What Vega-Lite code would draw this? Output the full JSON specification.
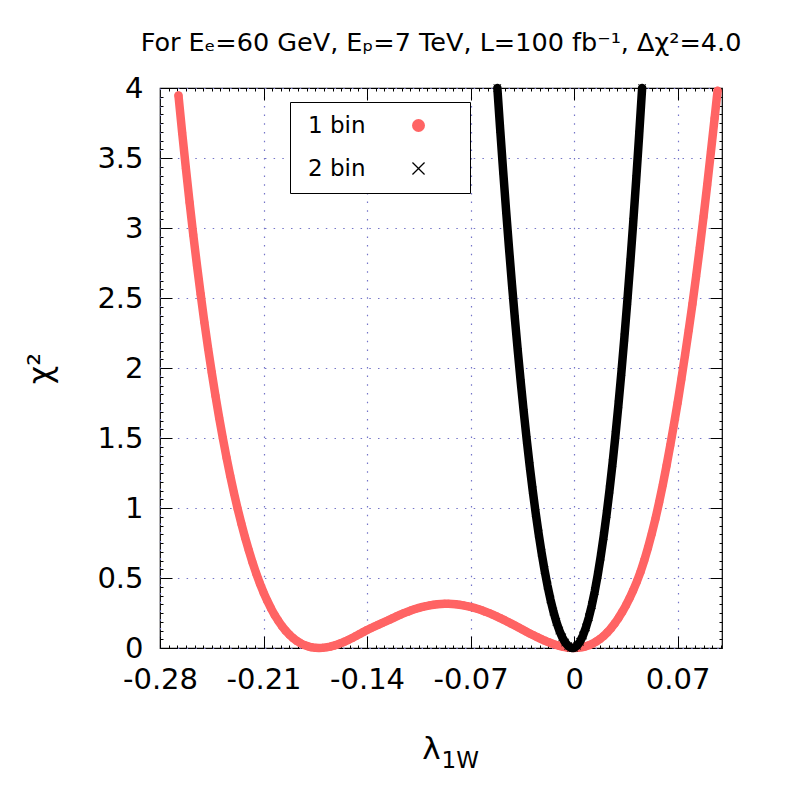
{
  "$schema": "https://vega.github.io/schema/vega-lite/v6.json",
  "width": 562,
  "height": 560,
  "autosize": {"type": "none"},
  "padding": {"left": 160, "top": 88, "right": 78, "bottom": 152},
  "background": "white",
  "config": {
    "view": {"stroke": "black", "strokeWidth": 1.2},
    "axis": {"labelFont": "DejaVu Sans", "titleFont": "DejaVu Sans", "titleFontWeight": "normal", "labelColor": "black", "titleColor": "black", "tickColor": "black", "tickWidth": 1, "domain": false, "grid": false, "labelFlush": false, "labelOverlap": false, "labelBound": false}
  },
  "title": {"text": "For Eₑ=60 GeV, Eₚ=7 TeV, L=100 fb⁻¹, Δχ²=4.0", "fontSize": 25.5, "font": "DejaVu Sans", "fontWeight": "normal", "color": "black", "anchor": "middle", "frame": "group", "baseline": "alphabetic", "offset": -2},
  "datasets": {
    "red": [
      {"lambda": -0.2675, "chi2": 3.946, "s": "1 bin"},
      {"lambda": -0.2650, "chi2": 3.680, "s": "1 bin"},
      {"lambda": -0.2625, "chi2": 3.427, "s": "1 bin"},
      {"lambda": -0.2600, "chi2": 3.183, "s": "1 bin"},
      {"lambda": -0.2575, "chi2": 2.951, "s": "1 bin"},
      {"lambda": -0.2550, "chi2": 2.733, "s": "1 bin"},
      {"lambda": -0.2525, "chi2": 2.526, "s": "1 bin"},
      {"lambda": -0.2500, "chi2": 2.327, "s": "1 bin"},
      {"lambda": -0.2475, "chi2": 2.141, "s": "1 bin"},
      {"lambda": -0.2450, "chi2": 1.967, "s": "1 bin"},
      {"lambda": -0.2425, "chi2": 1.801, "s": "1 bin"},
      {"lambda": -0.2400, "chi2": 1.645, "s": "1 bin"},
      {"lambda": -0.2375, "chi2": 1.498, "s": "1 bin"},
      {"lambda": -0.2350, "chi2": 1.359, "s": "1 bin"},
      {"lambda": -0.2325, "chi2": 1.230, "s": "1 bin"},
      {"lambda": -0.2300, "chi2": 1.108, "s": "1 bin"},
      {"lambda": -0.2275, "chi2": 0.994, "s": "1 bin"},
      {"lambda": -0.2250, "chi2": 0.889, "s": "1 bin"},
      {"lambda": -0.2225, "chi2": 0.790, "s": "1 bin"},
      {"lambda": -0.2200, "chi2": 0.699, "s": "1 bin"},
      {"lambda": -0.2175, "chi2": 0.613, "s": "1 bin"},
      {"lambda": -0.2150, "chi2": 0.534, "s": "1 bin"},
      {"lambda": -0.2125, "chi2": 0.462, "s": "1 bin"},
      {"lambda": -0.2100, "chi2": 0.397, "s": "1 bin"},
      {"lambda": -0.2075, "chi2": 0.338, "s": "1 bin"},
      {"lambda": -0.2050, "chi2": 0.284, "s": "1 bin"},
      {"lambda": -0.2025, "chi2": 0.236, "s": "1 bin"},
      {"lambda": -0.2000, "chi2": 0.194, "s": "1 bin"},
      {"lambda": -0.1975, "chi2": 0.156, "s": "1 bin"},
      {"lambda": -0.1950, "chi2": 0.123, "s": "1 bin"},
      {"lambda": -0.1925, "chi2": 0.095, "s": "1 bin"},
      {"lambda": -0.1900, "chi2": 0.071, "s": "1 bin"},
      {"lambda": -0.1875, "chi2": 0.0506, "s": "1 bin"},
      {"lambda": -0.1850, "chi2": 0.0342, "s": "1 bin"},
      {"lambda": -0.1825, "chi2": 0.0213, "s": "1 bin"},
      {"lambda": -0.1800, "chi2": 0.0117, "s": "1 bin"},
      {"lambda": -0.1775, "chi2": 0.0050, "s": "1 bin"},
      {"lambda": -0.1750, "chi2": 0.0012, "s": "1 bin"},
      {"lambda": -0.1725, "chi2": 0.0, "s": "1 bin"},
      {"lambda": -0.1700, "chi2": 0.0012, "s": "1 bin"},
      {"lambda": -0.1675, "chi2": 0.0045, "s": "1 bin"},
      {"lambda": -0.1650, "chi2": 0.0098, "s": "1 bin"},
      {"lambda": -0.1625, "chi2": 0.0168, "s": "1 bin"},
      {"lambda": -0.1600, "chi2": 0.0254, "s": "1 bin"},
      {"lambda": -0.1575, "chi2": 0.0353, "s": "1 bin"},
      {"lambda": -0.1550, "chi2": 0.0464, "s": "1 bin"},
      {"lambda": -0.1525, "chi2": 0.0585, "s": "1 bin"},
      {"lambda": -0.1500, "chi2": 0.0716, "s": "1 bin"},
      {"lambda": -0.1475, "chi2": 0.0853, "s": "1 bin"},
      {"lambda": -0.1450, "chi2": 0.0995, "s": "1 bin"},
      {"lambda": -0.1425, "chi2": 0.1142, "s": "1 bin"},
      {"lambda": -0.1400, "chi2": 0.1284, "s": "1 bin"},
      {"lambda": -0.1375, "chi2": 0.1413, "s": "1 bin"},
      {"lambda": -0.1350, "chi2": 0.1538, "s": "1 bin"},
      {"lambda": -0.1325, "chi2": 0.1657, "s": "1 bin"},
      {"lambda": -0.1300, "chi2": 0.1771, "s": "1 bin"},
      {"lambda": -0.1275, "chi2": 0.1893, "s": "1 bin"},
      {"lambda": -0.1250, "chi2": 0.2009, "s": "1 bin"},
      {"lambda": -0.1225, "chi2": 0.2138, "s": "1 bin"},
      {"lambda": -0.1200, "chi2": 0.2262, "s": "1 bin"},
      {"lambda": -0.1175, "chi2": 0.2380, "s": "1 bin"},
      {"lambda": -0.1150, "chi2": 0.2492, "s": "1 bin"},
      {"lambda": -0.1125, "chi2": 0.2597, "s": "1 bin"},
      {"lambda": -0.1100, "chi2": 0.2694, "s": "1 bin"},
      {"lambda": -0.1075, "chi2": 0.2783, "s": "1 bin"},
      {"lambda": -0.1050, "chi2": 0.2863, "s": "1 bin"},
      {"lambda": -0.1025, "chi2": 0.2934, "s": "1 bin"},
      {"lambda": -0.1000, "chi2": 0.2996, "s": "1 bin"},
      {"lambda": -0.0975, "chi2": 0.3048, "s": "1 bin"},
      {"lambda": -0.0950, "chi2": 0.3090, "s": "1 bin"},
      {"lambda": -0.0925, "chi2": 0.3121, "s": "1 bin"},
      {"lambda": -0.0900, "chi2": 0.3142, "s": "1 bin"},
      {"lambda": -0.0875, "chi2": 0.3153, "s": "1 bin"},
      {"lambda": -0.0850, "chi2": 0.3153, "s": "1 bin"},
      {"lambda": -0.0825, "chi2": 0.3142, "s": "1 bin"},
      {"lambda": -0.0800, "chi2": 0.3121, "s": "1 bin"},
      {"lambda": -0.0775, "chi2": 0.3090, "s": "1 bin"},
      {"lambda": -0.0750, "chi2": 0.3048, "s": "1 bin"},
      {"lambda": -0.0725, "chi2": 0.2996, "s": "1 bin"},
      {"lambda": -0.0700, "chi2": 0.2934, "s": "1 bin"},
      {"lambda": -0.0675, "chi2": 0.2863, "s": "1 bin"},
      {"lambda": -0.0650, "chi2": 0.2783, "s": "1 bin"},
      {"lambda": -0.0625, "chi2": 0.2694, "s": "1 bin"},
      {"lambda": -0.0600, "chi2": 0.2597, "s": "1 bin"},
      {"lambda": -0.0575, "chi2": 0.2492, "s": "1 bin"},
      {"lambda": -0.0550, "chi2": 0.2380, "s": "1 bin"},
      {"lambda": -0.0525, "chi2": 0.2262, "s": "1 bin"},
      {"lambda": -0.0500, "chi2": 0.2138, "s": "1 bin"},
      {"lambda": -0.0475, "chi2": 0.2009, "s": "1 bin"},
      {"lambda": -0.0450, "chi2": 0.1876, "s": "1 bin"},
      {"lambda": -0.0425, "chi2": 0.1740, "s": "1 bin"},
      {"lambda": -0.0400, "chi2": 0.1601, "s": "1 bin"},
      {"lambda": -0.0375, "chi2": 0.1461, "s": "1 bin"},
      {"lambda": -0.0350, "chi2": 0.1320, "s": "1 bin"},
      {"lambda": -0.0325, "chi2": 0.1180, "s": "1 bin"},
      {"lambda": -0.0300, "chi2": 0.1042, "s": "1 bin"},
      {"lambda": -0.0275, "chi2": 0.0908, "s": "1 bin"},
      {"lambda": -0.0250, "chi2": 0.0777, "s": "1 bin"},
      {"lambda": -0.0225, "chi2": 0.0653, "s": "1 bin"},
      {"lambda": -0.0200, "chi2": 0.0534, "s": "1 bin"},
      {"lambda": -0.0175, "chi2": 0.0423, "s": "1 bin"},
      {"lambda": -0.0150, "chi2": 0.0321, "s": "1 bin"},
      {"lambda": -0.0125, "chi2": 0.0231, "s": "1 bin"},
      {"lambda": -0.0100, "chi2": 0.0152, "s": "1 bin"},
      {"lambda": -0.0075, "chi2": 0.0089, "s": "1 bin"},
      {"lambda": -0.0050, "chi2": 0.0041, "s": "1 bin"},
      {"lambda": -0.0025, "chi2": 0.0010, "s": "1 bin"},
      {"lambda": 0.0, "chi2": 0.0, "s": "1 bin"},
      {"lambda": 0.0025, "chi2": 0.0011, "s": "1 bin"},
      {"lambda": 0.0050, "chi2": 0.0046, "s": "1 bin"},
      {"lambda": 0.0075, "chi2": 0.0106, "s": "1 bin"},
      {"lambda": 0.0100, "chi2": 0.0193, "s": "1 bin"},
      {"lambda": 0.0125, "chi2": 0.0310, "s": "1 bin"},
      {"lambda": 0.0150, "chi2": 0.0459, "s": "1 bin"},
      {"lambda": 0.0175, "chi2": 0.0641, "s": "1 bin"},
      {"lambda": 0.0200, "chi2": 0.0860, "s": "1 bin"},
      {"lambda": 0.0225, "chi2": 0.1117, "s": "1 bin"},
      {"lambda": 0.0250, "chi2": 0.1414, "s": "1 bin"},
      {"lambda": 0.0275, "chi2": 0.1755, "s": "1 bin"},
      {"lambda": 0.0300, "chi2": 0.2141, "s": "1 bin"},
      {"lambda": 0.0325, "chi2": 0.2566, "s": "1 bin"},
      {"lambda": 0.0350, "chi2": 0.3038, "s": "1 bin"},
      {"lambda": 0.0375, "chi2": 0.3560, "s": "1 bin"},
      {"lambda": 0.0400, "chi2": 0.4132, "s": "1 bin"},
      {"lambda": 0.0425, "chi2": 0.4759, "s": "1 bin"},
      {"lambda": 0.0450, "chi2": 0.5461, "s": "1 bin"},
      {"lambda": 0.0475, "chi2": 0.6279, "s": "1 bin"},
      {"lambda": 0.0500, "chi2": 0.7179, "s": "1 bin"},
      {"lambda": 0.0525, "chi2": 0.8163, "s": "1 bin"},
      {"lambda": 0.0550, "chi2": 0.9237, "s": "1 bin"},
      {"lambda": 0.0575, "chi2": 1.0407, "s": "1 bin"},
      {"lambda": 0.0600, "chi2": 1.1676, "s": "1 bin"},
      {"lambda": 0.0625, "chi2": 1.3029, "s": "1 bin"},
      {"lambda": 0.0650, "chi2": 1.4466, "s": "1 bin"},
      {"lambda": 0.0675, "chi2": 1.5956, "s": "1 bin"},
      {"lambda": 0.0700, "chi2": 1.7520, "s": "1 bin"},
      {"lambda": 0.0725, "chi2": 1.9183, "s": "1 bin"},
      {"lambda": 0.0750, "chi2": 2.0915, "s": "1 bin"},
      {"lambda": 0.0775, "chi2": 2.2711, "s": "1 bin"},
      {"lambda": 0.0800, "chi2": 2.4564, "s": "1 bin"},
      {"lambda": 0.0825, "chi2": 2.6555, "s": "1 bin"},
      {"lambda": 0.0850, "chi2": 2.8624, "s": "1 bin"},
      {"lambda": 0.0875, "chi2": 3.0795, "s": "1 bin"},
      {"lambda": 0.0900, "chi2": 3.3070, "s": "1 bin"},
      {"lambda": 0.0925, "chi2": 3.5451, "s": "1 bin"},
      {"lambda": 0.0950, "chi2": 3.7843, "s": "1 bin"},
      {"lambda": 0.0970, "chi2": 3.98, "s": "1 bin"}
    ],
    "black": [
      {"lambda": -0.0519, "chi2": 4.0, "s": "2 bin"},
      {"lambda": -0.050, "chi2": 3.707, "s": "2 bin"},
      {"lambda": -0.048, "chi2": 3.411, "s": "2 bin"},
      {"lambda": -0.046, "chi2": 3.127, "s": "2 bin"},
      {"lambda": -0.044, "chi2": 2.855, "s": "2 bin"},
      {"lambda": -0.042, "chi2": 2.595, "s": "2 bin"},
      {"lambda": -0.040, "chi2": 2.348, "s": "2 bin"},
      {"lambda": -0.038, "chi2": 2.114, "s": "2 bin"},
      {"lambda": -0.036, "chi2": 1.891, "s": "2 bin"},
      {"lambda": -0.034, "chi2": 1.681, "s": "2 bin"},
      {"lambda": -0.032, "chi2": 1.484, "s": "2 bin"},
      {"lambda": -0.030, "chi2": 1.298, "s": "2 bin"},
      {"lambda": -0.028, "chi2": 1.126, "s": "2 bin"},
      {"lambda": -0.026, "chi2": 0.965, "s": "2 bin"},
      {"lambda": -0.024, "chi2": 0.817, "s": "2 bin"},
      {"lambda": -0.022, "chi2": 0.681, "s": "2 bin"},
      {"lambda": -0.020, "chi2": 0.557, "s": "2 bin"},
      {"lambda": -0.018, "chi2": 0.446, "s": "2 bin"},
      {"lambda": -0.016, "chi2": 0.347, "s": "2 bin"},
      {"lambda": -0.014, "chi2": 0.261, "s": "2 bin"},
      {"lambda": -0.012, "chi2": 0.187, "s": "2 bin"},
      {"lambda": -0.010, "chi2": 0.125, "s": "2 bin"},
      {"lambda": -0.008, "chi2": 0.076, "s": "2 bin"},
      {"lambda": -0.006, "chi2": 0.039, "s": "2 bin"},
      {"lambda": -0.004, "chi2": 0.014, "s": "2 bin"},
      {"lambda": -0.002, "chi2": 0.002, "s": "2 bin"},
      {"lambda": -0.001, "chi2": 0.0, "s": "2 bin"},
      {"lambda": 0.000, "chi2": 0.002, "s": "2 bin"},
      {"lambda": 0.002, "chi2": 0.016, "s": "2 bin"},
      {"lambda": 0.004, "chi2": 0.045, "s": "2 bin"},
      {"lambda": 0.006, "chi2": 0.089, "s": "2 bin"},
      {"lambda": 0.008, "chi2": 0.147, "s": "2 bin"},
      {"lambda": 0.010, "chi2": 0.219, "s": "2 bin"},
      {"lambda": 0.012, "chi2": 0.306, "s": "2 bin"},
      {"lambda": 0.014, "chi2": 0.407, "s": "2 bin"},
      {"lambda": 0.016, "chi2": 0.523, "s": "2 bin"},
      {"lambda": 0.018, "chi2": 0.654, "s": "2 bin"},
      {"lambda": 0.020, "chi2": 0.799, "s": "2 bin"},
      {"lambda": 0.022, "chi2": 0.958, "s": "2 bin"},
      {"lambda": 0.024, "chi2": 1.132, "s": "2 bin"},
      {"lambda": 0.026, "chi2": 1.320, "s": "2 bin"},
      {"lambda": 0.028, "chi2": 1.523, "s": "2 bin"},
      {"lambda": 0.030, "chi2": 1.740, "s": "2 bin"},
      {"lambda": 0.032, "chi2": 1.972, "s": "2 bin"},
      {"lambda": 0.034, "chi2": 2.218, "s": "2 bin"},
      {"lambda": 0.036, "chi2": 2.479, "s": "2 bin"},
      {"lambda": 0.038, "chi2": 2.754, "s": "2 bin"},
      {"lambda": 0.040, "chi2": 3.044, "s": "2 bin"},
      {"lambda": 0.042, "chi2": 3.348, "s": "2 bin"},
      {"lambda": 0.044, "chi2": 3.667, "s": "2 bin"},
      {"lambda": 0.046, "chi2": 4.0, "s": "2 bin"}
    ]
  },
  "layer": [
    {
      "data": {"name": "red"},
      "mark": {"type": "line", "color": "#ff6464", "strokeWidth": 8.5, "strokeCap": "round", "strokeJoin": "round"},
      "encoding": {
        "x": {"field": "lambda", "type": "quantitative", "scale": {"domain": [-0.28, 0.1], "nice": false, "zero": false},
          "axis": {"orient": "bottom", "values": [-0.28, -0.21, -0.14, -0.07, 0, 0.07], "labelExpr": "'' + datum.value", "labelFontSize": 29, "tickSize": -12, "labelPadding": 29, "grid": true, "gridColor": "#7474c8", "gridDash": [1.5, 7.2], "gridWidth": 1.2, "title": "λ", "titleFontSize": 31, "titleX": 271, "titleY": 110, "titleAlign": "center", "titleBaseline": "alphabetic", "titleAngle": 0}},
        "y": {"field": "chi2", "type": "quantitative", "scale": {"domain": [0, 4], "nice": false, "zero": false},
          "axis": {"orient": "left", "values": [0, 0.5, 1, 1.5, 2, 2.5, 3, 3.5, 4], "labelExpr": "'' + datum.value", "labelFontSize": 29, "tickSize": -12, "labelPadding": 29, "grid": true, "gridColor": "#7474c8", "gridDash": [1.5, 7.2], "gridWidth": 1.2, "title": "χ²", "titleFontSize": 32, "titleAngle": -90, "titleX": -110, "titleY": 280, "titleAlign": "center", "titleBaseline": "alphabetic"}}
      }
    },
    {
      "data": {"name": "red"},
      "mark": {"type": "point", "filled": true, "opacity": 1, "size": 64},
      "encoding": {
        "x": {"field": "lambda", "type": "quantitative",
          "axis": {"orient": "bottom", "values": [-0.274167, -0.268333, -0.2625, -0.256667, -0.250833, -0.245, -0.239167, -0.233333, -0.2275, -0.221667, -0.215833, -0.204167, -0.198333, -0.1925, -0.186667, -0.180833, -0.175, -0.169167, -0.163333, -0.1575, -0.151667, -0.145833, -0.134167, -0.128333, -0.1225, -0.116667, -0.110833, -0.105, -0.099167, -0.093333, -0.0875, -0.081667, -0.075833, -0.064167, -0.058333, -0.0525, -0.046667, -0.040833, -0.035, -0.029167, -0.023333, -0.0175, -0.011667, -0.005833, 0.005833, 0.011667, 0.0175, 0.023333, 0.029167, 0.035, 0.040833, 0.046667, 0.0525, 0.058333, 0.064167, 0.075833, 0.081667, 0.0875, 0.093333, 0.099167], "labels": false, "tickSize": -3, "grid": false, "title": "1W", "titleFontSize": 23, "titleX": 281, "titleY": 119, "titleAlign": "left", "titleBaseline": "alphabetic", "titleAngle": 0}},
        "y": {"field": "chi2", "type": "quantitative",
          "axis": {"orient": "left", "values": [0.0625, 0.125, 0.1875, 0.25, 0.3125, 0.375, 0.4375, 0.5625, 0.625, 0.6875, 0.75, 0.8125, 0.875, 0.9375, 1.0625, 1.125, 1.1875, 1.25, 1.3125, 1.375, 1.4375, 1.5625, 1.625, 1.6875, 1.75, 1.8125, 1.875, 1.9375, 2.0625, 2.125, 2.1875, 2.25, 2.3125, 2.375, 2.4375, 2.5625, 2.625, 2.6875, 2.75, 2.8125, 2.875, 2.9375, 3.0625, 3.125, 3.1875, 3.25, 3.3125, 3.375, 3.4375, 3.5625, 3.625, 3.6875, 3.75, 3.8125, 3.875, 3.9375], "labels": false, "tickSize": -3, "grid": false, "title": null}},
        "color": {"field": "s", "type": "nominal", "scale": {"domain": ["1 bin", "2 bin"], "range": ["#ff6464", "#000000"]},
          "legend": {"orient": "none", "legendX": 130, "legendY": 14, "title": " ", "titleOrient": "right", "titlePadding": 33, "titleFontSize": 23, "strokeColor": "black", "fillColor": "white", "padding": 12, "labelFontSize": 23, "labelFont": "DejaVu Sans", "labelColor": "black", "symbolSize": 169, "symbolOffset": 105, "labelOffset": -122, "rowPadding": 19}},
        "shape": {"field": "s", "type": "nominal", "scale": {"domain": ["1 bin", "2 bin"], "range": ["circle", "M-1,-0.86L-0.86,-1L0,-0.14L0.86,-1L1,-0.86L0.14,0L1,0.86L0.86,1L0,0.14L-0.86,1L-1,0.86L-0.14,0Z"]},
          "legend": {"orient": "none", "legendX": 130, "legendY": 14, "title": " ", "titleOrient": "right", "titlePadding": 33, "titleFontSize": 23, "strokeColor": "black", "fillColor": "white", "padding": 12, "labelFontSize": 23, "labelFont": "DejaVu Sans", "labelColor": "black", "symbolSize": 169, "symbolOffset": 105, "labelOffset": -122, "rowPadding": 19}}
      }
    },
    {
      "data": {"name": "black"},
      "mark": {"type": "line", "color": "#000000", "strokeWidth": 8.5, "strokeCap": "round", "strokeJoin": "round"},
      "encoding": {
        "x": {"field": "lambda", "type": "quantitative",
          "axis": {"orient": "top", "values": [-0.21, -0.14, -0.07, 0, 0.07], "labels": false, "tickSize": -12, "grid": false, "title": null}},
        "y": {"field": "chi2", "type": "quantitative",
          "axis": {"orient": "right", "values": [0.5, 1, 1.5, 2, 2.5, 3, 3.5], "labels": false, "tickSize": -12, "grid": false, "title": null}}
      }
    },
    {
      "data": {"name": "black"},
      "mark": {"type": "point", "filled": true, "opacity": 1, "size": 64},
      "encoding": {
        "x": {"field": "lambda", "type": "quantitative",
          "axis": {"orient": "top", "values": [-0.274167, -0.268333, -0.2625, -0.256667, -0.250833, -0.245, -0.239167, -0.233333, -0.2275, -0.221667, -0.215833, -0.204167, -0.198333, -0.1925, -0.186667, -0.180833, -0.175, -0.169167, -0.163333, -0.1575, -0.151667, -0.145833, -0.134167, -0.128333, -0.1225, -0.116667, -0.110833, -0.105, -0.099167, -0.093333, -0.0875, -0.081667, -0.075833, -0.064167, -0.058333, -0.0525, -0.046667, -0.040833, -0.035, -0.029167, -0.023333, -0.0175, -0.011667, -0.005833, 0.005833, 0.011667, 0.0175, 0.023333, 0.029167, 0.035, 0.040833, 0.046667, 0.0525, 0.058333, 0.064167, 0.075833, 0.081667, 0.0875, 0.093333, 0.099167], "labels": false, "tickSize": -3, "grid": false, "title": null}},
        "y": {"field": "chi2", "type": "quantitative",
          "axis": {"orient": "right", "values": [0.0625, 0.125, 0.1875, 0.25, 0.3125, 0.375, 0.4375, 0.5625, 0.625, 0.6875, 0.75, 0.8125, 0.875, 0.9375, 1.0625, 1.125, 1.1875, 1.25, 1.3125, 1.375, 1.4375, 1.5625, 1.625, 1.6875, 1.75, 1.8125, 1.875, 1.9375, 2.0625, 2.125, 2.1875, 2.25, 2.3125, 2.375, 2.4375, 2.5625, 2.625, 2.6875, 2.75, 2.8125, 2.875, 2.9375, 3.0625, 3.125, 3.1875, 3.25, 3.3125, 3.375, 3.4375, 3.5625, 3.625, 3.6875, 3.75, 3.8125, 3.875, 3.9375], "labels": false, "tickSize": -3, "grid": false, "title": null}},
        "color": {"field": "s", "type": "nominal", "scale": {"domain": ["1 bin", "2 bin"], "range": ["#ff6464", "#000000"]}},
        "shape": {"field": "s", "type": "nominal", "scale": {"domain": ["1 bin", "2 bin"], "range": ["circle", "M-1,-0.86L-0.86,-1L0,-0.14L0.86,-1L1,-0.86L0.14,0L1,0.86L0.86,1L0,0.14L-0.86,1L-1,0.86L-0.14,0Z"]}}
      }
    }
  ],
  "resolve": {"axis": {"x": "independent", "y": "independent"}}
}
